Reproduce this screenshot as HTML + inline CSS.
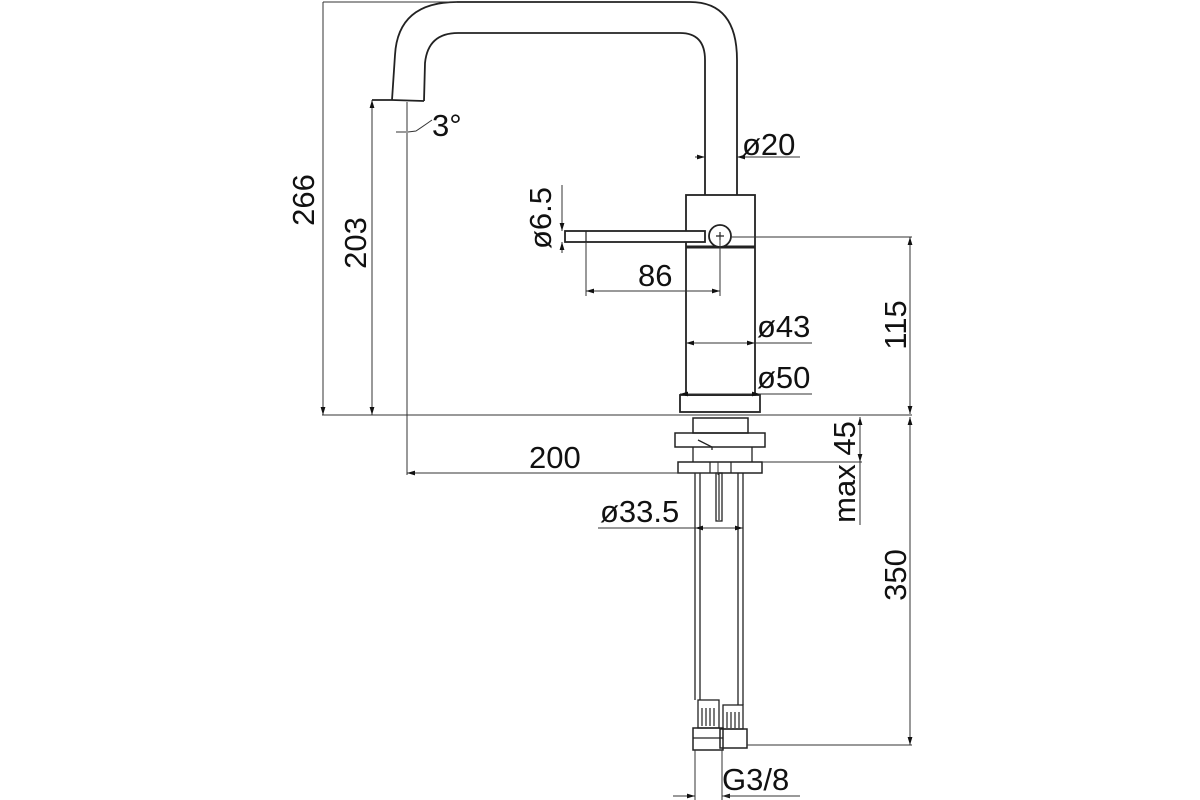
<!DOCTYPE html>
<html><head><meta charset="utf-8"><style>
html,body{margin:0;padding:0;background:#fff;}
svg{display:block}
text{font-family:"Liberation Sans",Arial,sans-serif;font-size:31px;fill:#111;}
</style></head><body>
<svg width="1200" height="800" viewBox="0 0 1200 800" xmlns="http://www.w3.org/2000/svg">
<defs>
<marker id="a" viewBox="0 0 10 10" refX="10" refY="5" markerWidth="8" markerHeight="8" orient="auto-start-reverse"><path d="M0,2 L10,5 L0,8 z" fill="#111"/></marker>
</defs>
<g fill="none" stroke="#222" stroke-width="1.2">
<!-- spout -->
<path d="M392,100 L395,55 Q398,2 457,2 L690,2 Q737,2 737,60 L737,195" stroke-width="1.8"/>
<path d="M424,101 L425,63 Q428,33 458,33 L680,33 Q705,33 705,60 L705,195" stroke-width="1.8"/>
<path d="M372,100 L392,100 L424,101" stroke-width="1.8"/>
<!-- body -->
<rect x="686" y="195" width="69" height="200" stroke-width="1.8"/>
<line x1="686" y1="247" x2="755" y2="247" stroke-width="3"/>
<rect x="565" y="231" width="140" height="11" stroke-width="1.8" fill="#fff"/>
<line x1="586" y1="231" x2="586" y2="242"/>
<circle cx="720" cy="236" r="11" fill="#fff" stroke-width="1.8"/>
<path d="M716,236 h8 M720,232 v8"/>
<rect x="680" y="395" width="80" height="17" stroke-width="1.8"/>
<!-- under deck -->
<rect x="693" y="418" width="55" height="15" stroke-width="1.5"/>
<rect x="675" y="433" width="90" height="14" stroke-width="1.5"/>
<path d="M693,447 L693,462 M752,447 L752,462 M698,440 L712,447 L712,450" stroke-width="1.3"/>
<rect x="678" y="462" width="84" height="11" stroke-width="1.5"/>
<line x1="710" y1="462" x2="710" y2="473"/><line x1="731" y1="462" x2="731" y2="473"/>
<!-- hoses -->
<path d="M695,473 V700 M700,473 V700 M738,473 V705 M743,473 V705" stroke-width="1.3"/>
<rect x="716" y="473" width="6" height="48" stroke-width="1.3"/>
<line x1="719" y1="473" x2="719" y2="520"/>
<!-- fittings -->
<rect x="698" y="700" width="21" height="28" stroke-width="1.3"/>
<path d="M702,708 v18 M706,708 v18 M710,708 v18 M714,708 v18"/>
<rect x="693" y="728" width="30" height="22" stroke-width="1.5"/>
<line x1="693" y1="738" x2="723" y2="738"/>
<rect x="723" y="705" width="20" height="24" stroke-width="1.3"/>
<path d="M727,712 v16 M731,712 v16 M735,712 v16 M739,712 v16"/>
<rect x="720" y="729" width="27" height="19" stroke-width="1.5"/>
</g>
<g fill="none" stroke="#333" stroke-width="1">
<!-- baseline -->
<line x1="322" y1="415" x2="912" y2="415"/>
<!-- 266 -->
<line x1="323" y1="2" x2="323" y2="415" marker-end="url(#a)"/>
<line x1="323" y1="2" x2="457" y2="2"/>
<!-- 203 -->
<line x1="372" y1="100" x2="372" y2="415" marker-start="url(#a)" marker-end="url(#a)"/>
<!-- 3° / 200 -->
<line x1="407" y1="102" x2="407" y2="475"/>
<path d="M396,132 L406,132 M408,132 L416,131 Q425,125 432,120"/>
<line x1="407" y1="473" x2="718" y2="473" marker-start="url(#a)"/>
<line x1="718" y1="462" x2="718" y2="475"/>
<!-- ø20 -->
<line x1="695" y1="157" x2="705" y2="157" marker-end="url(#a)"/>
<line x1="737" y1="157" x2="800" y2="157"/>
<line x1="749" y1="157" x2="737" y2="157" marker-end="url(#a)"/>
<!-- ø6.5 -->
<line x1="562" y1="185" x2="562" y2="231" marker-end="url(#a)"/>
<line x1="562" y1="253" x2="562" y2="242" marker-end="url(#a)"/>
<!-- 86 -->
<line x1="586" y1="242" x2="586" y2="296"/>
<line x1="720" y1="236" x2="720" y2="296"/>
<line x1="586" y1="291" x2="720" y2="291" marker-start="url(#a)" marker-end="url(#a)"/>
<!-- 115 -->
<line x1="731" y1="237" x2="912" y2="237"/>
<line x1="910" y1="237" x2="910" y2="414" marker-start="url(#a)" marker-end="url(#a)"/>
<!-- ø43 -->
<line x1="686" y1="343" x2="755" y2="343" marker-start="url(#a)" marker-end="url(#a)"/>
<line x1="755" y1="343" x2="812" y2="343"/>
<!-- ø50 -->
<line x1="680" y1="394" x2="760" y2="394" marker-start="url(#a)" marker-end="url(#a)"/>
<line x1="760" y1="394" x2="812" y2="394"/>
<line x1="760" y1="394" x2="760" y2="412"/>
<!-- max45 -->
<line x1="860" y1="417" x2="860" y2="462" marker-start="url(#a)" marker-end="url(#a)"/>
<line x1="860" y1="462" x2="860" y2="525"/>
<line x1="762" y1="462" x2="862" y2="462"/>
<!-- 350 -->
<line x1="910" y1="417" x2="910" y2="745" marker-start="url(#a)" marker-end="url(#a)"/>
<line x1="747" y1="745" x2="912" y2="745"/>
<!-- ø33.5 -->
<line x1="598" y1="528" x2="695" y2="528"/>
<line x1="695" y1="528" x2="743" y2="528" marker-start="url(#a)" marker-end="url(#a)"/>
<!-- G3/8 -->
<line x1="695" y1="750" x2="695" y2="800"/>
<line x1="722" y1="750" x2="722" y2="800"/>
<line x1="673" y1="796" x2="695" y2="796" marker-end="url(#a)"/>
<line x1="745" y1="796" x2="722" y2="796" marker-end="url(#a)"/>
<line x1="722" y1="796" x2="800" y2="796"/>
</g>
<text x="432" y="136">3°</text>
<text x="742" y="155">ø20</text>
<text x="638" y="286">86</text>
<text x="757" y="337">ø43</text>
<text x="757" y="388">ø50</text>
<text x="529" y="468">200</text>
<text x="600" y="522">ø33.5</text>
<text x="722" y="790">G3/8</text>
<text transform="translate(314,200) rotate(-90)" text-anchor="middle">266</text>
<text transform="translate(366,243) rotate(-90)" text-anchor="middle">203</text>
<text transform="translate(551,218) rotate(-90)" text-anchor="middle">ø6.5</text>
<text transform="translate(906,325) rotate(-90)" text-anchor="middle">115</text>
<text transform="translate(855,472) rotate(-90)" text-anchor="middle">max 45</text>
<text transform="translate(906,575) rotate(-90)" text-anchor="middle">350</text>
</svg>
</body></html>
